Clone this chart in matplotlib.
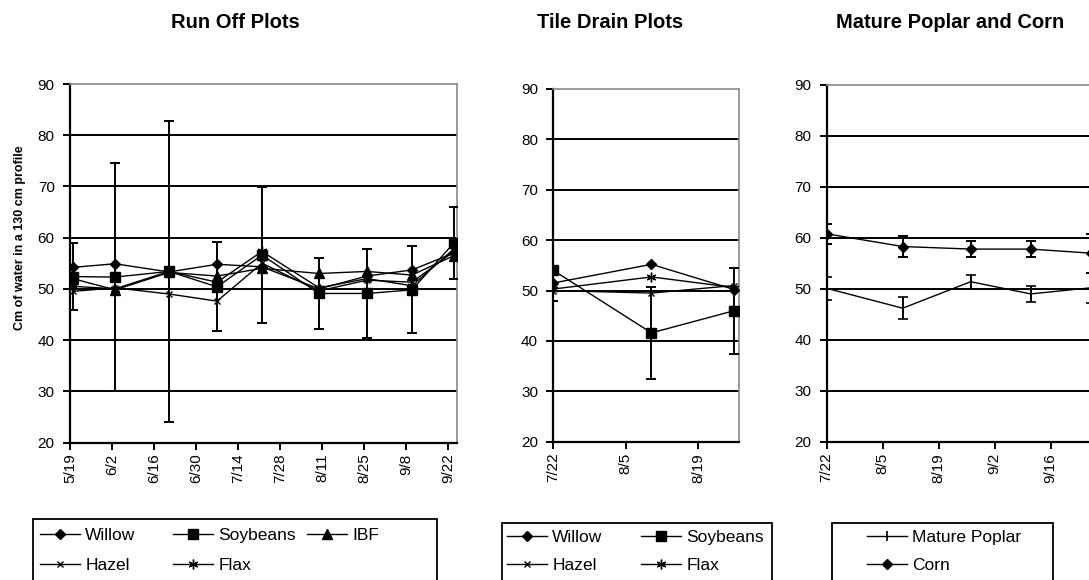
import datetime as dt
import matplotlib
matplotlib.use('Agg')
import matplotlib.pyplot as plt
import matplotlib.dates as mdates
import pandas as pd
from matplotlib.lines import Line2D
from matplotlib.patches import Rectangle
from matplotlib.ticker import FuncFormatter

plt.rcParams['font.family'] = ['Liberation Sans', 'DejaVu Sans']

# ---------------- data ----------------
ro_dates = ['2003-05-20', '2003-06-03', '2003-06-21', '2003-07-07', '2003-07-22',
            '2003-08-10', '2003-08-26', '2003-09-10', '2003-09-24']
ro_willow = [54.2, 54.9, 53.3, 54.8, 54.3, 50.0, 52.5, 53.7, 57.0]
ro_soybeans = [52.4, 52.3, 53.4, 50.4, 56.6, 49.1, 49.1, 49.8, 59.0]
ro_soybeans_err = [6.5, 22.2, 29.3, 8.7, 13.3, 7.0, 8.7, 8.5, 7.0]
ro_ibf = [52.0, 49.8, 53.2, 52.5, 54.0, 53.0, 53.4, 52.7, 56.5]
ro_hazel = [49.5, 50.2, 49.0, 47.6, 55.0, 49.6, 51.7, 51.3, 57.3]
ro_flax = [50.5, 50.0, 53.4, 51.3, 57.3, 50.2, 52.0, 50.6, 57.8]

td_dates = ['2003-07-22', '2003-08-10', '2003-08-26']
td_willow = [51.5, 55.2, 50.2]
td_soybeans = [54.0, 41.6, 46.0]
td_soybeans_err = [6.1, 9.2, 8.5]
td_hazel = [50.0, 49.5, 51.0]
td_flax = [50.3, 52.7, 50.6]

mp_dates = ['2003-07-22', '2003-08-10', '2003-08-27', '2003-09-11', '2003-09-26']
mp_poplar = [50.1, 46.2, 51.4, 49.0, 50.2]
mp_poplar_err = [2.2, 2.2, 1.4, 1.6, 2.9]
mp_corn = [60.8, 58.3, 57.8, 57.8, 57.0]
mp_corn_err = [2.0, 2.0, 1.6, 1.6, 3.8]

titles = ['Run Off Plots', 'Tile Drain Plots', 'Mature Poplar and Corn']
ylabel = 'Cm of water in a 130 cm profile'

# ---------------- figure ----------------
W, H = 1089, 580
fig = plt.figure(figsize=(W / 100, H / 100), dpi=100)


def D(s):
    return dt.datetime.strptime(s, '%Y-%m-%d')


def add_ax(l, t, r, b):
    return fig.add_axes([l / W, 1 - b / H, (r - l) / W, (b - t) / H])


def md(v, pos=None):
    d = mdates.num2date(v)
    return f"{d.month}/{d.day}"


def style(ax, start, end, tick_end):
    ax.set_ylim(20, 90)
    ax.set_yticks(range(20, 91, 10))
    ax.set_xlim(D(start), D(end))
    ax.set_xticks(pd.date_range(D(start), D(tick_end), freq='14D'))
    ax.xaxis.set_major_formatter(FuncFormatter(md))
    for y in range(30, 90, 10):
        ax.axhline(y, color='black', lw=1.4, zorder=0.5)
    for s in ['left', 'bottom']:
        ax.spines[s].set_color('black')
        ax.spines[s].set_linewidth(1.6)
    for s in ['top', 'right']:
        ax.spines[s].set_color('#8a8a8a')
        ax.spines[s].set_linewidth(1.2)
    ax.tick_params(axis='y', direction='out', length=5, width=1.4, pad=6, labelsize=11)
    ax.tick_params(axis='x', direction='out', length=5, width=1.4, pad=3, labelsize=11,
                   labelrotation=90)
    ax.set_facecolor('white')


line_kw = dict(color='black', lw=1.0, zorder=3)
eb_kw = dict(color='black', lw=1.0, capsize=3.5, elinewidth=1.4, capthick=1.4, zorder=4)

MK = {
    'Willow': dict(marker='D', ms=5.0),
    'Soybeans': dict(marker='s', ms=6.5),
    'IBF': dict(marker='^', ms=7.0),
    'Hazel': dict(marker='x', ms=5.0, mew=1.0),
    'Flax': dict(marker=(6, 2, 0), ms=7.0, mew=1.0),
    'Mature Poplar': dict(marker='|', ms=7.0, mew=1.2),
    'Corn': dict(marker='D', ms=5.0),
}

# Panel 1
ax1 = add_ax(70, 84, 457, 442.5)
style(ax1, '2003-05-19', '2003-09-25', '2003-09-22')
x1 = [D(s) for s in ro_dates]
ax1.plot(x1, ro_willow, **line_kw, **MK['Willow'])
ax1.plot(x1, ro_ibf, **line_kw, **MK['IBF'])
ax1.plot(x1, ro_hazel, **line_kw, **MK['Hazel'])
ax1.plot(x1, ro_flax, **line_kw, **MK['Flax'])
ax1.errorbar(x1, ro_soybeans, yerr=ro_soybeans_err, **eb_kw, **MK['Soybeans'])

# Panel 2
ax2 = add_ax(553.3, 89, 739.3, 441.7)
style(ax2, '2003-07-22', '2003-08-27', '2003-08-26')
x2 = [D(s) for s in td_dates]
ax2.plot(x2, td_willow, **line_kw, **MK['Willow'])
ax2.plot(x2, td_hazel, **line_kw, **MK['Hazel'])
ax2.plot(x2, td_flax, **line_kw, **MK['Flax'])
ax2.errorbar(x2, td_soybeans, yerr=td_soybeans_err, **eb_kw, **MK['Soybeans'])

# Panel 3 (extends past the right edge of the image)
ax3 = add_ax(826.7, 85, 826.7 + 70 * 4.0, 441.7)
style(ax3, '2003-07-22', '2003-09-30', '2003-09-16')
x3 = [D(s) for s in mp_dates]
ax3.errorbar(x3, mp_poplar, yerr=mp_poplar_err, **eb_kw, **MK['Mature Poplar'])
ax3.errorbar(x3, mp_corn, yerr=mp_corn_err, **eb_kw, **MK['Corn'])

# Titles
for txt, cx in zip(titles, [235, 610, 950]):
    fig.text(cx / W, 1 - 22 / H, txt, ha='center', va='center', fontsize=14.5,
             fontweight='bold')
fig.text(20 / W, 1 - 238 / H, ylabel, rotation=90, ha='center', va='center',
         fontsize=9, fontweight='bold')

# Legends
legend_items = [
    ('Willow', 40, 535), ('Soybeans', 173, 535), ('IBF', 307, 535),
    ('Hazel', 40, 565), ('Flax', 173, 565),
    ('Willow', 507, 537), ('Soybeans', 641, 537),
    ('Hazel', 507, 565), ('Flax', 641, 565),
    ('Mature Poplar', 867, 537), ('Corn', 867, 565),
]
for lab, lx, ly in legend_items:
    h = Line2D([], [], color='black', lw=1.0, **MK[lab])
    fig.legend(handles=[h], labels=[lab], loc='center left',
               bbox_to_anchor=(lx / W, 1 - ly / H), frameon=False, borderpad=0,
               borderaxespad=0, handlelength=2.3, handletextpad=0.3, fontsize=12.5)

for l, t, r in [(33, 519, 437), (502, 523, 772), (832, 523, 1053)]:
    fig.add_artist(Rectangle((l / W, -0.1), (r - l) / W, (1 - t / H) + 0.1,
                             transform=fig.transFigure, fill=False,
                             edgecolor='black', lw=1.3))

fig.savefig('out.png', dpi=100, facecolor='white')
